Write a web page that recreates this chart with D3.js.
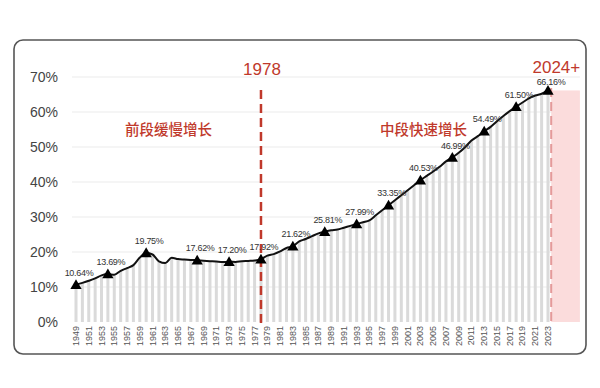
<!DOCTYPE html>
<html>
<head>
<meta charset="utf-8">
<script src="https://cdn.jsdelivr.net/npm/d3@7"></script>
<style>
  body { margin: 0; background: #fff; }
  svg { display: block; font-family: Arial, "Liberation Sans", "Noto Sans CJK SC", sans-serif; }
</style>
</head>
<body>
<div id="chart"></div>
<script>
// Размеры
const width = 600;
const height = 388;

// годы 1949–2023
const years = d3.range(1949, 2024);

// уровень урбанизации, %
const rates = [
  10.64, 11.18, 11.78, 12.46, 13.31, 13.69, 13.48, 14.62, 15.39, 16.25,
  18.41, 19.75, 19.29, 17.33, 16.84, 18.37, 17.98, 17.86, 17.74, 17.62,
  17.50, 17.38, 17.26, 17.13, 17.20, 17.16, 17.34, 17.44, 17.55, 17.92,
  18.96, 19.39, 20.16, 21.13, 21.62, 23.01, 23.71, 24.52, 25.32, 25.81,
  26.21, 26.41, 26.94, 27.46, 27.99, 28.51, 29.04, 30.48, 31.91, 33.35,
  34.78, 36.22, 37.66, 39.09, 40.53, 41.76, 42.99, 44.34, 45.89, 46.99,
  48.34, 49.95, 51.83, 53.10, 54.49, 55.75, 57.33, 58.84, 60.24, 61.50,
  62.71, 63.89, 64.72, 65.22, 66.16
];

// годы с подписями-треугольниками
const markedYears = [1949, 1954, 1960, 1968, 1973, 1978, 1983, 1988, 1993, 1998, 2003, 2008, 2013, 2018, 2023];

const yTicks = [0, 10, 20, 30, 40, 50, 60, 70];
const xTickYears = years.filter((d, i) => i % 2 === 0);

const stageLabels = [
  { text: "前段缓慢增长", year: 1963.5, value: 55 },
  { text: "中段快速增长", year: 2003.5, value: 55 }
];

const data = years.map((y, i) => ({ year: y, value: rates[i] }));

const red = "#c0392b";

const x = d3.scaleLinear().domain([1949, 2023]).range([76, 548]);
const y = d3.scaleLinear().domain([0, 70]).range([322, 77]);

const svg = d3.select("#chart").append("svg")
  .attr("width", width)
  .attr("height", height);

// рамка
svg.append("rect")
  .attr("x", 14).attr("y", 40)
  .attr("width", 572).attr("height", 314)
  .attr("rx", 9)
  .attr("fill", "#fff")
  .attr("stroke", "#555")
  .attr("stroke-width", 1.6);

// сетка
svg.append("g")
  .selectAll("line")
  .data(yTicks.filter(d => d > 0))
  .join("line")
  .attr("x1", 72).attr("x2", x(2028))
  .attr("y1", d => y(d)).attr("y2", d => y(d))
  .attr("stroke", "#ebebeb")
  .attr("stroke-width", 1);

// розовая зона 2024+
svg.append("rect")
  .attr("x", x(2023.5))
  .attr("y", y(66.16))
  .attr("width", x(2028) - x(2023.5))
  .attr("height", y(0) - y(66.16))
  .attr("fill", "#fbdcdc");

// столбики
svg.append("g")
  .selectAll("rect")
  .data(data)
  .join("rect")
  .attr("x", d => x(d.year) - 1.5)
  .attr("y", d => y(d.value))
  .attr("width", 3)
  .attr("height", d => y(0) - y(d.value))
  .attr("fill", "#dadada");

// ось Y
svg.append("g")
  .selectAll("text")
  .data(yTicks)
  .join("text")
  .attr("x", 58)
  .attr("y", d => y(d) + 5)
  .attr("text-anchor", "end")
  .attr("font-size", 14)
  .attr("fill", "#444")
  .text(d => d + "%");

// ось X
svg.append("g")
  .selectAll("text")
  .data(xTickYears)
  .join("text")
  .attr("transform", d => `translate(${x(d) + 3},326) rotate(-90)`)
  .attr("text-anchor", "end")
  .attr("font-size", 9)
  .attr("fill", "#555")
  .text(d => d);

// пунктир 1978
svg.append("line")
  .attr("x1", x(1978)).attr("x2", x(1978))
  .attr("y1", 90).attr("y2", 324)
  .attr("stroke", red)
  .attr("stroke-width", 2.5)
  .attr("stroke-dasharray", "9,5");

svg.append("text")
  .attr("x", x(1978) + 1).attr("y", 75)
  .attr("text-anchor", "middle")
  .attr("font-size", 17)
  .attr("fill", red)
  .text("1978");

// пунктир 2024
svg.append("line")
  .attr("x1", x(2023.5)).attr("x2", x(2023.5))
  .attr("y1", 88).attr("y2", 322)
  .attr("stroke", "#e49a9a")
  .attr("stroke-width", 2)
  .attr("stroke-dasharray", "9,5");

svg.append("text")
  .attr("x", x(2024) + 2).attr("y", 73)
  .attr("text-anchor", "middle")
  .attr("font-size", 17)
  .attr("fill", red)
  .text("2024+");

// подписи этапов
svg.append("g")
  .selectAll("text")
  .data(stageLabels)
  .join("text")
  .attr("x", d => x(d.year))
  .attr("y", d => y(d.value) + 5)
  .attr("text-anchor", "middle")
  .attr("font-size", 14.5)
  .attr("font-weight", 500)
  .attr("fill", red)
  .text(d => d.text);

// линия
const line = d3.line()
  .x(d => x(d.year))
  .y(d => y(d.value))
  .curve(d3.curveMonotoneX);

svg.append("path")
  .datum(data)
  .attr("d", line)
  .attr("fill", "none")
  .attr("stroke", "#111")
  .attr("stroke-width", 2);

// маркеры
const marked = data.filter(d => markedYears.includes(d.year));
const lastYear = markedYears[markedYears.length - 1];

svg.append("g")
  .selectAll("path")
  .data(marked)
  .join("path")
  .attr("transform", d => `translate(${x(d.year)},${y(d.value) + 1})`)
  .attr("d", d3.symbol(d3.symbolTriangle, 55))
  .attr("fill", "#000");

svg.append("g")
  .selectAll("text")
  .data(marked)
  .join("text")
  .attr("x", d => x(d.year) + 3)
  .attr("y", d => y(d.value) - (d.year === lastYear ? 5 : 9))
  .attr("text-anchor", "middle")
  .attr("font-size", 9)
  .attr("letter-spacing", -0.3)
  .attr("fill", "#333")
  .text(d => d.value.toFixed(2) + "%");
</script>
</body>
</html>
